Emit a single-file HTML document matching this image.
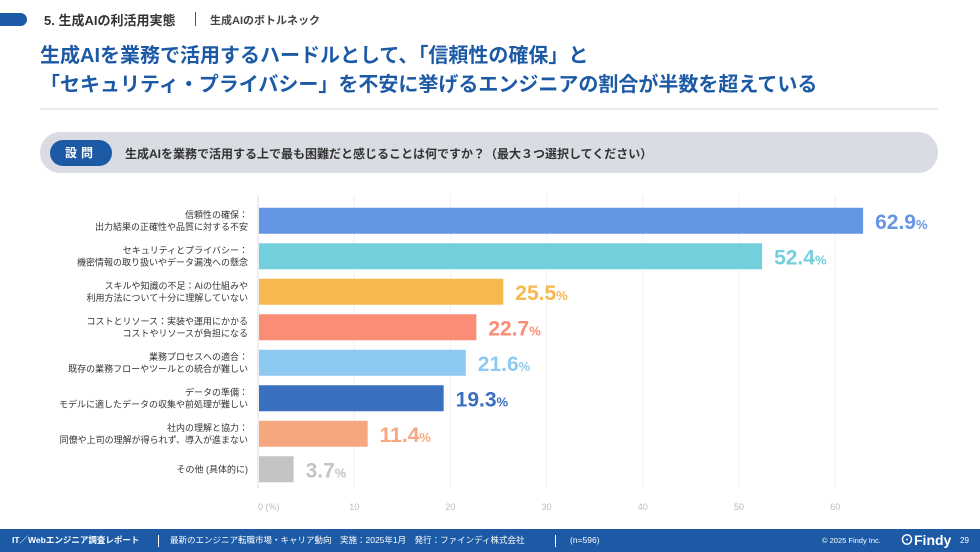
<!DOCTYPE html>
<html><head><meta charset="utf-8">
<style>
*{margin:0;padding:0;box-sizing:border-box}
body{width:980px;height:552px;overflow:hidden;background:#fff;font-family:"Liberation Sans","Noto Sans CJK JP",sans-serif;position:relative}
.abs{position:absolute}
</style></head><body>
<div class="abs" style="left:-10px;top:13px;width:37px;height:13px;background:#1d5aa6;border-radius:7px"></div>
<div class="abs" style="left:44px;top:10px;font-size:13px;font-weight:bold;color:#333">5. 生成AIの利活用実態</div>
<div class="abs" style="left:195px;top:12px;width:1px;height:14px;background:#1d5aa6"></div>
<div class="abs" style="left:210px;top:12px;font-size:11px;font-weight:bold;color:#444">生成AIのボトルネック</div>
<div class="abs" style="left:40px;top:42px;font-size:20px;font-weight:bold;color:#1d5aa6;line-height:29px;white-space:nowrap">生成AIを業務で活用するハードルとして、「信頼性の確保」と<br>「セキュリティ・プライバシー」を不安に挙げるエンジニアの割合が半数を超えている</div>
<div class="abs" style="left:40px;top:108px;width:898px;height:2px;background:#ececec"></div>
<div class="abs" style="left:40px;top:132px;width:898px;height:41px;background:#d9dce3;border-radius:20px"></div>
<div class="abs" style="left:50px;top:140px;width:62px;height:26px;background:#1d5aa6;border-radius:13px;color:#fff;font-size:12px;font-weight:bold;text-align:center;line-height:26px;letter-spacing:4px">設問</div>
<div class="abs" style="left:125px;top:145px;font-size:12px;font-weight:bold;color:#333;white-space:nowrap">生成AIを業務で活用する上で最も困難だと感じることは何ですか？（最大３つ選択してください）</div>

<svg class="abs" style="left:0;top:0" width="980" height="552" id="chart"></svg>

<div class="abs" style="left:0;top:529px;width:980px;height:23px;background:#1d5aa6;color:#fff;font-size:8.5px;line-height:23px;white-space:nowrap">
<span class="abs" style="left:12px;font-weight:bold">IT／Webエンジニア調査レポート</span>
<span class="abs" style="left:158px;top:6px;width:1px;height:12px;background:#fff"></span>
<span class="abs" style="left:170px">最新のエンジニア転職市場・キャリア動向　実施：2025年1月　発行：ファインディ株式会社</span>
<span class="abs" style="left:555px;top:6px;width:1px;height:12px;background:#fff"></span>
<span class="abs" style="left:570px">(n=596)</span>
<span class="abs" style="left:822px;font-size:7.5px">© 2025 Findy Inc.</span>
<span class="abs" style="left:900px;font-size:14px;font-weight:bold">⊙Findy</span>
<span class="abs" style="left:960px;font-size:8px">29</span>
</div>

<script>
const categories=[
["信頼性の確保：","出力結果の正確性や品質に対する不安"],
["セキュリティとプライバシー：","機密情報の取り扱いやデータ漏洩への懸念"],
["スキルや知識の不足：AIの仕組みや","利用方法について十分に理解していない"],
["コストとリソース：実装や運用にかかる","コストやリソースが負担になる"],
["業務プロセスへの適合：","既存の業務フローやツールとの統合が難しい"],
["データの準備：","モデルに適したデータの収集や前処理が難しい"],
["社内の理解と協力：","同僚や上司の理解が得られず、導入が進まない"],
["その他 (具体的に)"]
];
const values=[62.9,52.4,25.5,22.7,21.6,19.3,11.4,3.7];
const colors=["#6496e4","#74cfdc","#f6b84f","#fb8c75","#8ec9f1","#3b6fc0","#f7a780","#c4c4c4"];
const ticks=[0,10,20,30,40,50,60];
const tickLabels=["0 (%)","10","20","30","40","50","60"];
const NS="http://www.w3.org/2000/svg";
const svg=document.getElementById('chart');
const x0=258,pxPer=9.62,yTop=203,band=35.5,barH=26;
const xs=v=>x0+v*pxPer;
const yc=i=>yTop+band*i+band/2;
function mk(t,a){const e=document.createElementNS(NS,t);for(const k in a)e.setAttribute(k,a[k]);svg.appendChild(e);return e;}
ticks.forEach((t,i)=>{
 if(t>0){const g=mk('line',{x1:xs(t),x2:xs(t),y1:195,y2:488,stroke:'#f0f0f0','stroke-width':1});
 
 }
 const l=mk('text',{x:xs(t),y:510,'font-size':9,fill:'#bbb','text-anchor':t===0?'start':'middle'});
 
 
 l.textContent=tickLabels[i];
});
const ax=mk('line',{x1:x0,x2:x0,y1:195,y2:488,stroke:'#ddd','stroke-width':1});


values.forEach((v,i)=>{
 const r=mk('rect',{x:x0+1,y:yc(i)-barH/2,width:xs(v)-x0-1,height:barH,fill:colors[i]});
 
 
 const t=mk('text',{x:xs(v)+12,y:yc(i)+8,'font-size':21,'font-weight':'bold',fill:colors[i],'font-family':'Liberation Sans, sans-serif'});
 
 
 t.textContent=v.toFixed(1);
 const p=document.createElementNS(NS,'tspan');p.setAttribute('font-size',13);p.textContent='%';t.appendChild(p);
 const lines=categories[i];
 const lab=mk('text',{x:248,'font-size':9,fill:'#333','text-anchor':'end'});
 
 
 lines.forEach((s,j)=>{const ts=document.createElementNS(NS,'tspan');ts.setAttribute('x',248);
 ts.setAttribute('y',yc(i)+(lines.length===1?3:(j===0?-3:9)));ts.textContent=s;lab.appendChild(ts);});
});
</script>
</body></html>
